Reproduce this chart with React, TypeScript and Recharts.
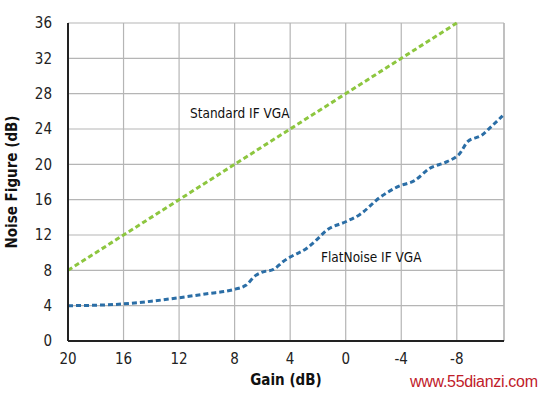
import { CartesianGrid, Label, Line, LineChart, ReferenceLine, XAxis, YAxis } from "recharts"

// gain (dB) readings, x axis runs from +20 down to about -11.4
const standardGain = [20, -8]
const standardNf = [8, 36]

const flatGain = [20, 18, 16, 14, 12, 10, 8, 7.2, 6.5, 6, 5.2, 4.5, 4, 2.8, 2, 1.4, 0, -1, -2.5, -3.8, -5, -6, -7.3, -8.2, -8.8, -9.8, -10.5, -11.3]
const flatNf = [4.0, 4.05, 4.2, 4.5, 4.9, 5.35, 5.85, 6.3, 7.4, 7.8, 8.1, 9.0, 9.5, 10.5, 11.6, 12.5, 13.5, 14.3, 16.3, 17.5, 18.2, 19.5, 20.3, 21.2, 22.6, 23.3, 24.3, 25.5]

const xTicks = [20, 16, 12, 8, 4, 0, -4, -8]
const yTicks = [0, 4, 8, 12, 16, 20, 24, 28, 32, 36]
const xMin = -11.4

const standardData = standardGain.map((g, i) => ({ gain: g, nf: standardNf[i] }))
const flatData = flatGain.map((g, i) => ({ gain: g, nf: flatNf[i] }))

const font = "'DejaVu Sans Condensed', 'Liberation Sans Narrow', 'Liberation Sans', sans-serif"
const tickStyle = { fontSize: 15, fill: "#222", fontFamily: font }

export default function App() {
  return (
    <div style={{ position: "absolute", left: 0, top: 0, width: 545, height: 396, background: "#fff", fontFamily: font, fontStretch: "condensed" }}>
      <LineChart width={545} height={396} margin={{ top: 23, right: 41, left: 20, bottom: 30 }}>
        <CartesianGrid stroke="#b5b5b5" strokeWidth={1.2} />
        <XAxis
          type="number"
          dataKey="gain"
          domain={[xMin, 20]}
          reversed
          ticks={xTicks}
          allowDataOverflow
          tick={tickStyle}
          tickLine={false}
          axisLine={{ stroke: "#222", strokeWidth: 2 }}
          tickMargin={6}
          height={25}
        >
          <Label value="Gain (dB)" position="bottom" offset={8} style={{ fontSize: 15, fontWeight: 700, fill: "#111", fontFamily: font }} />
        </XAxis>
        <YAxis
          type="number"
          domain={[0, 36]}
          ticks={yTicks}
          tick={tickStyle}
          tickLine={false}
          axisLine={{ stroke: "#222", strokeWidth: 2 }}
          tickMargin={10}
          width={48}
        >
          <Label value="Noise Figure (dB)" angle={-90} position="insideLeft" offset={-8} style={{ fontSize: 15, fontWeight: 700, fill: "#111", fontFamily: font, textAnchor: "middle" }} />
        </YAxis>
        <ReferenceLine x={xMin} stroke="#b5b5b5" strokeWidth={1.2} />
        <Line
          data={standardData}
          type="linear"
          dataKey="nf"
          stroke="#8dc63f"
          strokeWidth={3}
          strokeDasharray="5 3"
          dot={false}
          isAnimationActive={false}
        />
        <Line
          data={flatData}
          type="monotone"
          dataKey="nf"
          stroke="#2b6ea6"
          strokeWidth={3}
          strokeDasharray="5 3"
          dot={false}
          isAnimationActive={false}
        />
      </LineChart>
      <div style={{ position: "absolute", left: 190, top: 105, fontSize: 13.5, color: "#111" }}>Standard IF VGA</div>
      <div style={{ position: "absolute", left: 321, top: 249, fontSize: 13.5, color: "#111" }}>FlatNoise IF VGA</div>
      <div style={{ position: "absolute", left: 410, top: 373, fontSize: 16, color: "#c0202a", fontFamily: "'Liberation Sans', sans-serif", letterSpacing: -0.3 }}>www.55dianzi.com</div>
    </div>
  )
}
